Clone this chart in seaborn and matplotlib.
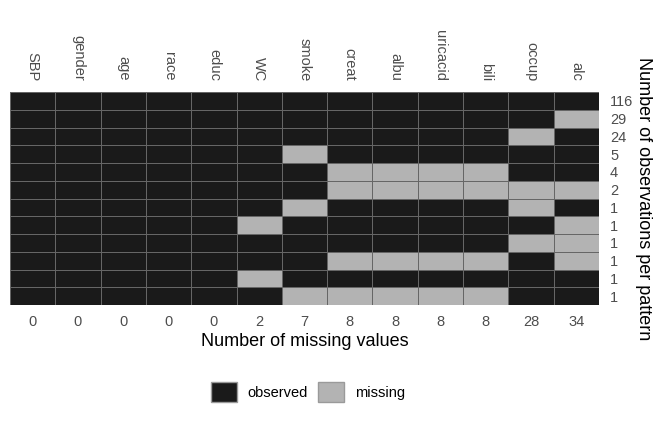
import numpy as np
import pandas as pd
import seaborn as sns
import matplotlib
import matplotlib.pyplot as plt
from matplotlib.colors import ListedColormap
from matplotlib.patches import Patch

matplotlib.use('Agg')

variables = ['SBP', 'gender', 'age', 'race', 'educ', 'WC', 'smoke',
             'creat', 'albu', 'uricacid', 'bili', 'occup', 'alc']

# 1 = observed, 0 = missing (one row per missing-data pattern)
patterns = [
    [1, 1, 1, 1, 1, 1, 1, 1, 1, 1, 1, 1, 1],
    [1, 1, 1, 1, 1, 1, 1, 1, 1, 1, 1, 1, 0],
    [1, 1, 1, 1, 1, 1, 1, 1, 1, 1, 1, 0, 1],
    [1, 1, 1, 1, 1, 1, 0, 1, 1, 1, 1, 1, 1],
    [1, 1, 1, 1, 1, 1, 1, 0, 0, 0, 0, 1, 1],
    [1, 1, 1, 1, 1, 1, 1, 0, 0, 0, 0, 0, 0],
    [1, 1, 1, 1, 1, 1, 0, 1, 1, 1, 1, 0, 1],
    [1, 1, 1, 1, 1, 0, 1, 1, 1, 1, 1, 1, 0],
    [1, 1, 1, 1, 1, 1, 1, 1, 1, 1, 1, 0, 0],
    [1, 1, 1, 1, 1, 1, 1, 0, 0, 0, 0, 1, 0],
    [1, 1, 1, 1, 1, 0, 1, 1, 1, 1, 1, 1, 1],
    [1, 1, 1, 1, 1, 1, 0, 0, 0, 0, 0, 1, 1],
]
pattern_counts = [116, 29, 24, 5, 4, 2, 1, 1, 1, 1, 1, 1]
missing_per_var = [0, 0, 0, 0, 0, 2, 7, 8, 8, 8, 8, 28, 34]

df = pd.DataFrame(patterns, columns=variables)

col_obs = '#1A1A1A'
col_mis = '#B3B3B3'
tick_col = '#4D4D4D'

plt.rcParams['font.family'] = ['Liberation Sans', 'DejaVu Sans']

fig = plt.figure(figsize=(6.64, 4.23), dpi=100)
W, H = 664, 423
ax = fig.add_axes([10 / W, 1 - 305 / H, 589 / W, 213 / H])

sns.heatmap(df, ax=ax, cmap=ListedColormap([col_mis, col_obs]), vmin=0, vmax=1,
            cbar=False, linewidths=0.6, linecolor='#666666')

xpos = np.arange(len(variables)) + 0.5
ypos = np.arange(len(pattern_counts)) + 0.5

ax.set_xticks(xpos, labels=[str(v) for v in missing_per_var])
ax.set_yticks([])
ax.tick_params(axis='x', length=0, pad=7, labelsize=10.5, labelcolor=tick_col)
ax.set_xlabel('Number of missing values', fontsize=13, labelpad=3)
ax.set_ylabel('')

top = ax.secondary_xaxis('top')
top.set_xticks(xpos, labels=variables)
top.tick_params(length=0, pad=8, labelsize=10.5, labelcolor=tick_col)
for lbl in top.get_xticklabels():
    lbl.set_rotation(-90)
top.spines['top'].set_visible(False)

right = ax.secondary_yaxis('right')
right.set_yticks(ypos, labels=[str(c) for c in pattern_counts])
right.tick_params(length=0, pad=8, labelsize=10.5, labelcolor=tick_col)
right.set_ylabel('Number of observations per pattern', fontsize=13,
                 rotation=-90, va='bottom', labelpad=1)
right.spines['right'].set_visible(False)

for s in ax.spines.values():
    s.set_visible(False)

handles = [Patch(facecolor=col_obs, edgecolor='#9A9A9A', label='observed'),
           Patch(facecolor=col_mis, edgecolor='#9A9A9A', label='missing')]
fig.legend(handles=handles, loc='center', bbox_to_anchor=(308 / W, 1 - 392 / H),
           ncol=2, frameon=False, fontsize=10.5, handlelength=1.8, handleheight=1.8,
           handletextpad=0.7, columnspacing=0.7)

fig.savefig('out.png', dpi=100)
